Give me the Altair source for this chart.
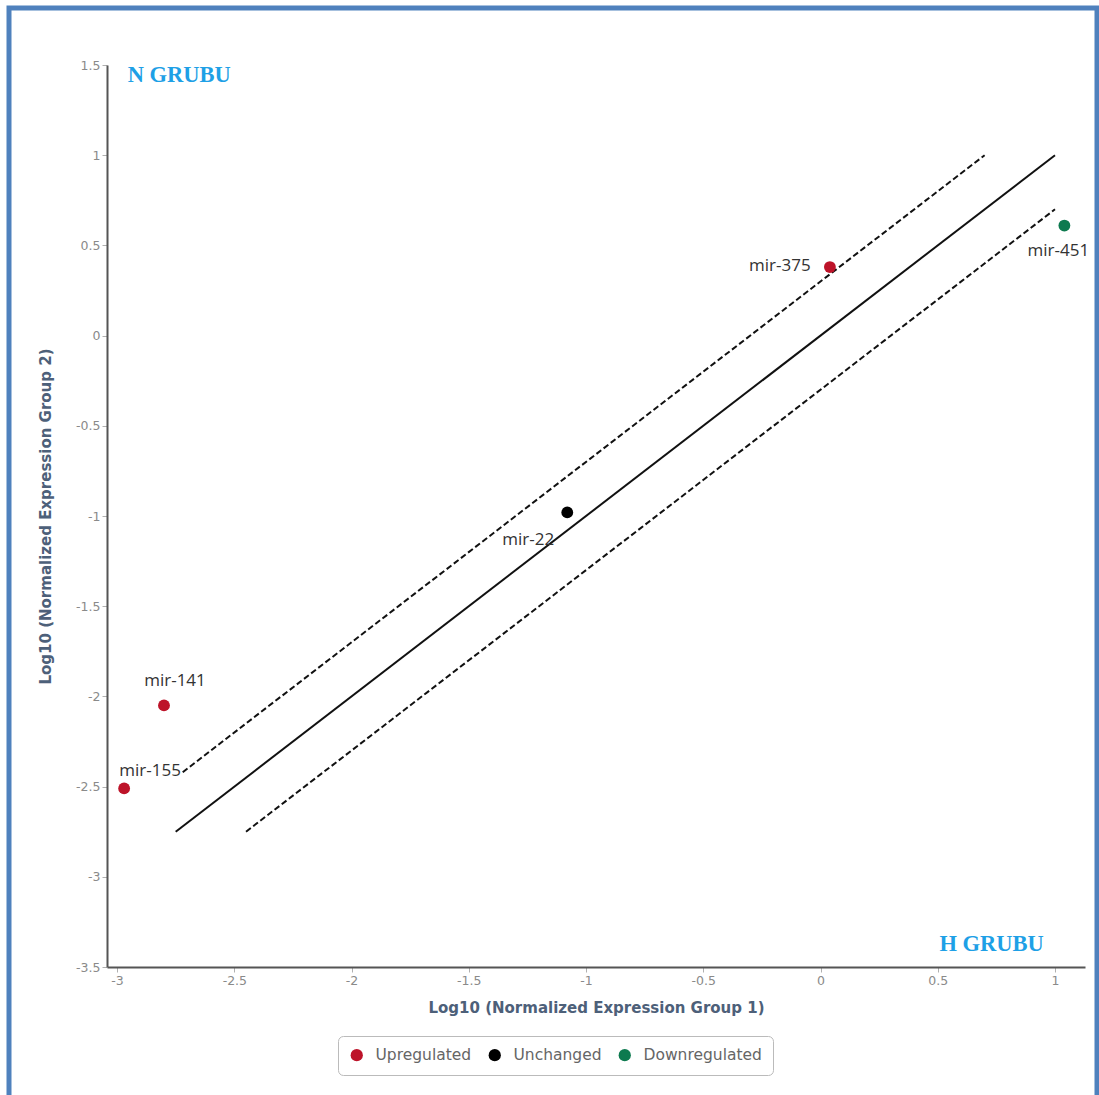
import altair as alt
import pandas as pd

# miRNA scatter: group 1 vs group 2 normalized expression (log10)
mirna = ["mir-155", "mir-141", "mir-22", "mir-375", "mir-451"]
group1 = [-2.97, -2.80, -1.08, 0.04, 1.04]
group2 = [-2.51, -2.05, -0.98, 0.38, 0.61]
status = ["Upregulated", "Upregulated", "Unchanged", "Upregulated", "Downregulated"]

# identity line and the two fold-change boundaries
line_id = ["center", "upper", "lower"]
line_x_start = [-2.75, -2.72, -2.45]
line_x_end = [1.0, 0.70, 1.0]
line_y_start = [-2.75, -2.42, -2.75]
line_y_end = [1.0, 1.0, 0.70]

x_ticks = [-3, -2.5, -2, -1.5, -1, -0.5, 0, 0.5, 1]
y_ticks = [1.5, 1, 0.5, 0, -0.5, -1, -1.5, -2, -2.5, -3, -3.5]

status_order = ["Upregulated", "Unchanged", "Downregulated"]
status_colors = ["#bd1329", "#000000", "#0d7a4f"]

group_names = ["N GRUBU", "H GRUBU"]
group_x = [-2.955, 0.507]
group_y = [1.445, -3.373]

points = pd.DataFrame({"mirna": mirna, "g1": group1, "g2": group2, "status": status})
lines = pd.DataFrame({
    "id": line_id * 2,
    "x": line_x_start + line_x_end,
    "y": line_y_start + line_y_end,
})
groups = pd.DataFrame({"name": group_names, "x": group_x, "y": group_y})

title_color = "#4d6079"
xs = alt.Scale(domain=[-3.043, 1.128], nice=False, zero=False)
ys = alt.Scale(domain=[-3.5, 1.5], nice=False, zero=False)

x_axis = alt.Axis(
    values=x_ticks, grid=False, labelExpr="'' + datum.value",
    domainColor="#555555", domainWidth=2, tickColor="#b0b0b0", tickSize=5,
    labelColor="#8a8a8a", labelFont="DejaVu Sans", labelFontSize=12.5, labelPadding=2,
    title="Log10 (Normalized Expression Group 1)", titleFont="DejaVu Sans",
    titleFontSize=15, titleFontWeight="bold", titleColor=title_color, titlePadding=14,
)
y_axis = alt.Axis(
    values=y_ticks, grid=False, labelExpr="'' + datum.value",
    domainColor="#555555", domainWidth=2, tickColor="#b0b0b0", tickSize=5,
    labelColor="#8a8a8a", labelFont="DejaVu Sans", labelFontSize=12.5, labelPadding=2,
    title="Log10 (Normalized Expression Group 2)", titleFont="DejaVu Sans",
    titleFontSize=15, titleFontWeight="bold", titleColor=title_color, titlePadding=22,
)

# outer blue frame
frame = alt.Chart(pd.DataFrame({"k": [0]})).mark_rect(
    fill=None, stroke="#4f81bd", strokeWidth=5
).encode(
    x=alt.value(-98), x2=alt.value(990), y=alt.value(-57), y2=alt.value(1040)
)

solid = alt.Chart(lines).transform_filter("datum.id == 'center'").mark_line(
    color="#111111", strokeWidth=2
).encode(
    x=alt.X("x:Q", scale=xs, axis=x_axis),
    y=alt.Y("y:Q", scale=ys, axis=y_axis),
    detail="id:N",
)

dashed = alt.Chart(lines).transform_filter("datum.id != 'center'").mark_line(
    color="#111111", strokeWidth=2, strokeDash=[6, 3]
).encode(
    x=alt.X("x:Q", scale=xs),
    y=alt.Y("y:Q", scale=ys),
    detail="id:N",
)

dots = alt.Chart(points).mark_circle(size=140, opacity=1).encode(
    x=alt.X("g1:Q", scale=xs),
    y=alt.Y("g2:Q", scale=ys),
    color=alt.Color(
        "status:N",
        scale=alt.Scale(domain=status_order, range=status_colors),
        legend=alt.Legend(
            title=None, orient="none", legendX=231, legendY=971, direction="horizontal",
            padding=11, strokeColor="#bbbbbb", cornerRadius=5, fillColor="white",
            labelFont="DejaVu Sans", labelFontSize=15.5, labelColor="#666666",
            symbolType="circle", symbolSize=150, labelOffset=11, columnPadding=15,
            symbolStrokeWidth=0,
        ),
    ),
)

# label offsets (pixels) for each miRNA name
label_offsets = {
    "mir-155": (26, -17),
    "mir-141": (11, -24),
    "mir-22": (-39, 28),
    "mir-375": (-50, -1),
    "mir-451": (-6, 25),
}
label_layers = []
for name, (dx, dy) in label_offsets.items():
    label_layers.append(
        alt.Chart(points).transform_filter(alt.datum.mirna == name).mark_text(
            dx=dx, dy=dy, align="center", baseline="middle",
            font="Open Sans", fontSize=17, color="#333333",
        ).encode(
            x=alt.X("g1:Q", scale=xs),
            y=alt.Y("g2:Q", scale=ys),
            text="mirna:N",
        )
    )

group_text = alt.Chart(groups).mark_text(
    align="left", baseline="middle", font="Liberation Serif", fontSize=22.5,
    fontWeight="bold", color="#1ea0e6",
).encode(
    x=alt.X("x:Q", scale=xs),
    y=alt.Y("y:Q", scale=ys),
    text="name:N",
)

chart = alt.layer(frame, solid, dashed, dots, *label_layers, group_text).properties(
    width=978,
    height=902,
    autosize=alt.AutoSizeParams(type="none"),
    padding={"left": 107, "top": 65, "right": 14, "bottom": 128},
    background="white",
).configure_view(stroke=None)

chart.save("out.html", embed_options={"renderer": "svg", "actions": False})
